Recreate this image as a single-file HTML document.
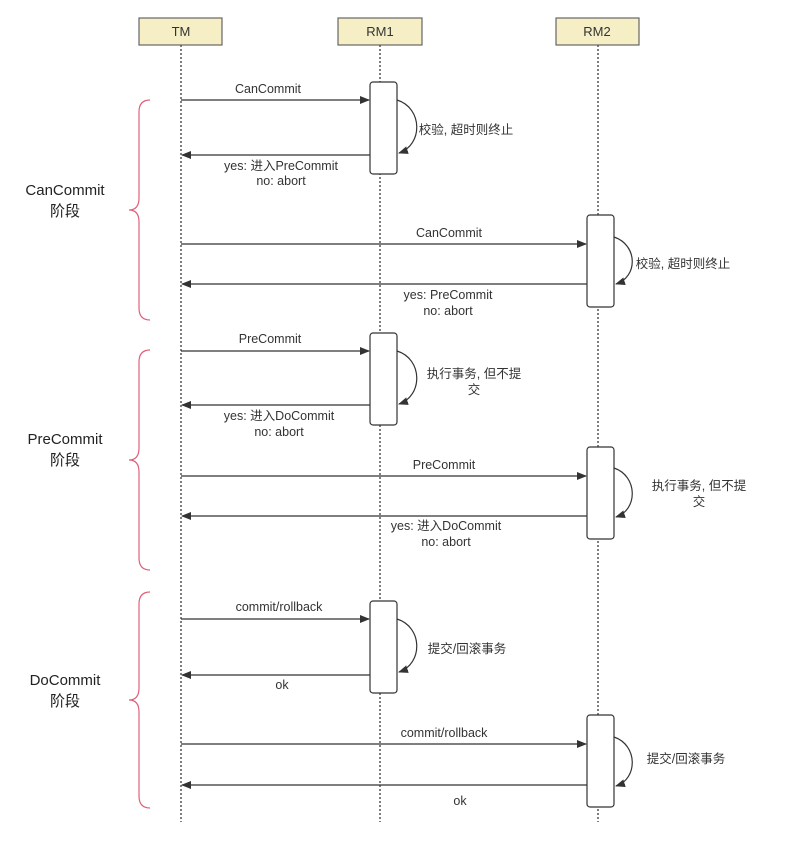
<!DOCTYPE html>
<html><head><meta charset="utf-8"><style>
body{margin:0;background:#fff;}
svg text{font-family:"Liberation Sans","Noto Sans CJK SC",sans-serif;}
</style></head><body>
<svg width="805" height="845" viewBox="0 0 805 845" xmlns="http://www.w3.org/2000/svg">
<defs><marker id="a" markerWidth="10" markerHeight="8" refX="9" refY="4" orient="auto" markerUnits="userSpaceOnUse"><path d="M0,0 L10,4 L0,8 Z" fill="#333"/></marker></defs>
<g fill="#f6efc6" stroke="#666" stroke-width="1.2">
<rect x="139" y="18" width="83" height="27"/>
<rect x="338" y="18" width="84" height="27"/>
<rect x="556" y="18" width="83" height="27"/>
</g>
<g font-size="13" fill="#333" text-anchor="middle">
<text x="181" y="36">TM</text><text x="380" y="36">RM1</text><text x="597" y="36">RM2</text>
</g>
<g stroke="#555" stroke-width="1.5" stroke-dasharray="2,2">
<line x1="181" y1="45" x2="181" y2="822"/>
<line x1="380" y1="45" x2="380" y2="822"/>
<line x1="598" y1="45" x2="598" y2="822"/>
</g>
<g fill="#fff" stroke="#333" stroke-width="1.2">
<rect x="370" y="82" width="27" height="92" rx="3"/>
<rect x="587" y="215" width="27" height="92" rx="3"/>
<rect x="370" y="333" width="27" height="92" rx="3"/>
<rect x="587" y="447" width="27" height="92" rx="3"/>
<rect x="370" y="601" width="27" height="92" rx="3"/>
<rect x="587" y="715" width="27" height="92" rx="3"/>
</g>
<g stroke="#333" stroke-width="1.2" fill="none" marker-end="url(#a)">
<line x1="181" y1="100" x2="369" y2="100"/><line x1="370" y1="155" x2="182" y2="155"/>
<line x1="181" y1="244" x2="586" y2="244"/><line x1="587" y1="284" x2="182" y2="284"/>
<line x1="181" y1="351" x2="369" y2="351"/><line x1="370" y1="405" x2="182" y2="405"/>
<line x1="181" y1="476" x2="586" y2="476"/><line x1="587" y1="516" x2="182" y2="516"/>
<line x1="181" y1="619" x2="369" y2="619"/><line x1="370" y1="675" x2="182" y2="675"/>
<line x1="181" y1="744" x2="586" y2="744"/><line x1="587" y1="785" x2="182" y2="785"/>
<path d="M397,100 C423,108 423,145 399,153"/>
<path d="M614,237 C638,245 638,277 616,284"/>
<path d="M397,351 C423,359 423,396 399,404"/>
<path d="M614,468 C638,476 638,510 616,517"/>
<path d="M397,619 C423,627 423,664 399,672"/>
<path d="M614,737 C638,745 638,779 616,786"/>
</g>
<g font-size="12.5" fill="#333" text-anchor="middle">
<text x="268" y="93">CanCommit</text>
<text x="281" y="170">yes: 进入PreCommit</text><text x="281" y="185">no: abort</text>
<text x="466" y="134">校验, 超时则终止</text>
<text x="449" y="237">CanCommit</text>
<text x="448" y="299">yes: PreCommit</text><text x="448" y="315">no: abort</text>
<text x="683" y="268">校验, 超时则终止</text>
<text x="270" y="343">PreCommit</text>
<text x="279" y="420">yes: 进入DoCommit</text><text x="279" y="436">no: abort</text>
<text x="474" y="378">执行事务, 但不提</text><text x="474" y="394">交</text>
<text x="444" y="469">PreCommit</text>
<text x="446" y="530">yes: 进入DoCommit</text><text x="446" y="546">no: abort</text>
<text x="699" y="490">执行事务, 但不提</text><text x="699" y="506">交</text>
<text x="279" y="611">commit/rollback</text>
<text x="282" y="689">ok</text>
<text x="467" y="653">提交/回滚事务</text>
<text x="444" y="737">commit/rollback</text>
<text x="460" y="805">ok</text>
<text x="686" y="763">提交/回滚事务</text>
</g>
<g stroke="#e0607a" stroke-width="1.2" fill="none">
<path d="M150,100 Q139,100 139,112 L139,198 Q139,210 129,210 Q139,210 139,222 L139,308 Q139,320 150,320"/>
<path d="M150,350 Q139,350 139,362 L139,448 Q139,460 129,460 Q139,460 139,472 L139,558 Q139,570 150,570"/>
<path d="M150,592 Q139,592 139,604 L139,688 Q139,700 129,700 Q139,700 139,712 L139,796 Q139,808 150,808"/>
</g>
<g font-size="15" fill="#222" text-anchor="middle">
<text x="65" y="195">CanCommit</text><text x="65" y="216">阶段</text>
<text x="65" y="444">PreCommit</text><text x="65" y="465">阶段</text>
<text x="65" y="685">DoCommit</text><text x="65" y="706">阶段</text>
</g>
</svg>
</body></html>
